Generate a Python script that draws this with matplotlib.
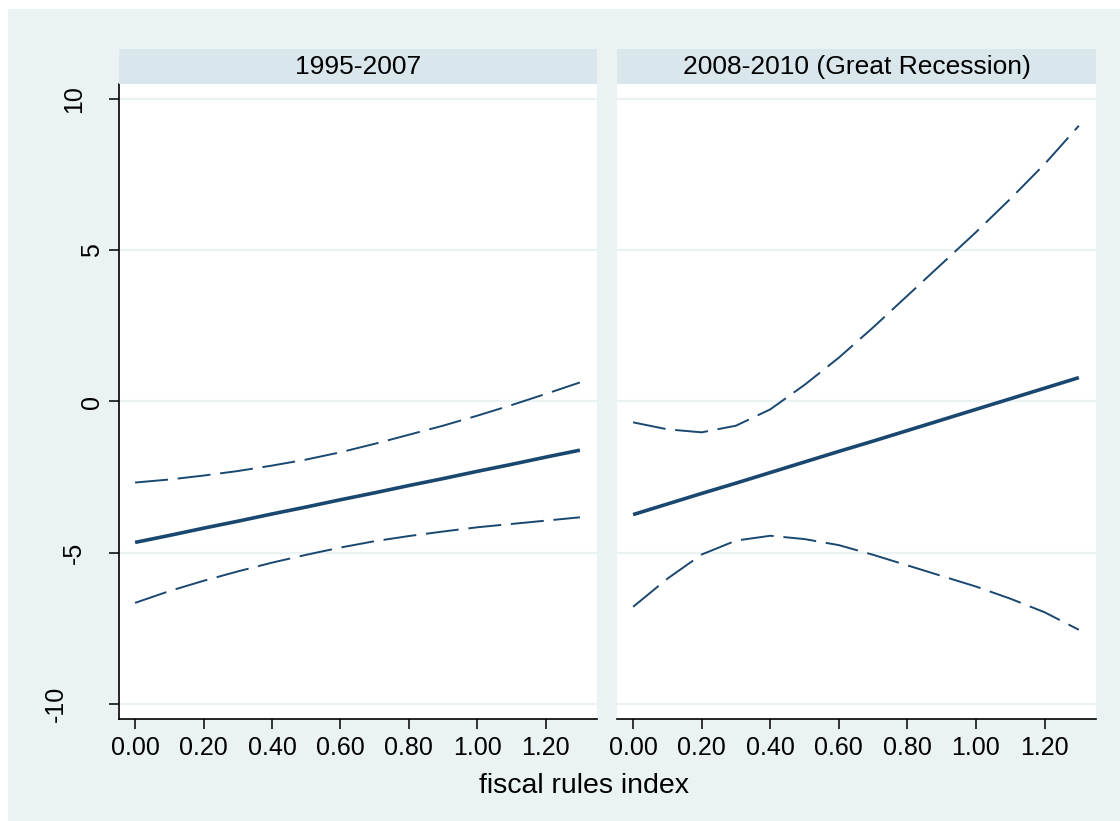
import matplotlib
matplotlib.use("Agg")
import matplotlib.pyplot as plt
from matplotlib.patches import Rectangle
from matplotlib.transforms import blended_transform_factory

plt.rcParams["font.family"] = ["Liberation Sans", "DejaVu Sans"]

# ---------------------------------------------------------------------------
# Data
# ---------------------------------------------------------------------------
PANEL_TITLES = ["1995-2007", "2008-2010 (Great Recession)"]
X = [0.0, 0.1, 0.2, 0.3, 0.4, 0.5, 0.6, 0.7, 0.8, 0.9, 1.0, 1.1, 1.2, 1.3]

LEFT_MID = [-4.66, -4.43, -4.19, -3.96, -3.72, -3.49, -3.25, -3.02, -2.78,
            -2.55, -2.31, -2.08, -1.84, -1.61]
LEFT_HI = [-2.68, -2.58, -2.45, -2.30, -2.12, -1.92, -1.68, -1.40, -1.10,
           -0.80, -0.47, -0.12, 0.25, 0.63]
LEFT_LO = [-6.66, -6.27, -5.93, -5.62, -5.33, -5.07, -4.83, -4.62, -4.45,
           -4.30, -4.16, -4.05, -3.94, -3.83]

RIGHT_MID = [-3.74, -3.39, -3.04, -2.70, -2.35, -2.00, -1.65, -1.31, -0.96,
             -0.61, -0.26, 0.09, 0.44, 0.79]
RIGHT_HI = [-0.69, -0.92, -1.02, -0.80, -0.26, 0.55, 1.45, 2.45, 3.50,
            4.55, 5.60, 6.70, 7.85, 9.12]
RIGHT_LO = [-6.79, -5.86, -5.06, -4.60, -4.44, -4.55, -4.75, -5.07, -5.42,
            -5.77, -6.12, -6.52, -6.97, -7.55]

X_TICKS = [0.0, 0.2, 0.4, 0.6, 0.8, 1.0, 1.2]
X_TICKLABELS = ["0.00", "0.20", "0.40", "0.60", "0.80", "1.00", "1.20"]
Y_TICKS = [-10, -5, 0, 5, 10]
Y_TICKLABELS = ["-10", "-5", "0", "5", "10"]
X_LABEL = "fiscal rules index"

# ---------------------------------------------------------------------------
# Style
# ---------------------------------------------------------------------------
BG = "#EAF2F3"
STRIP = "#D9E6EB"
GRID = "#EAF2F3"
NAVY = "#1A476F"
TICK_FS = 18
W, H = 1120, 821

fig = plt.figure(figsize=(W / 100, H / 100), dpi=100, facecolor="white")
fig.patches.append(Rectangle((8 / W, 0), 1 - 8 / W, 1 - 9 / H,
                             transform=fig.transFigure, facecolor=BG,
                             edgecolor="none", zorder=-10))


def px_axes(x0, y0, x1, y1):
    return fig.add_axes([x0 / W, 1 - y1 / H, (x1 - x0) / W, (y1 - y0) / H])


panels = [
    (119, 597, LEFT_MID, LEFT_HI, LEFT_LO),
    (617, 1096, RIGHT_MID, RIGHT_HI, RIGHT_LO),
]

for i, (x0, x1, mid, hi, lo) in enumerate(panels):
    ax = px_axes(x0, 84, x1, 719)
    ax.set_facecolor("white")
    ax.set_xlim(-0.047, 1.35)
    ax.set_ylim(-10.5, 10.5)
    for y in Y_TICKS:
        ax.axhline(y, color=GRID, lw=1.6, zorder=1)

    ax.plot(X, hi, color=NAVY, lw=1.4, ls=(0, (17, 5)), zorder=3)
    ax.plot(X, lo, color=NAVY, lw=1.4, ls=(0, (17, 5)), zorder=3)
    ax.plot(X, mid, color=NAVY, lw=2.6, zorder=4,
            solid_capstyle="butt")

    for s in ["top", "right"]:
        ax.spines[s].set_visible(False)
    ax.spines["bottom"].set_linewidth(1.2)
    ax.spines["left"].set_linewidth(1.2)
    if i == 1:
        ax.spines["left"].set_visible(False)

    ax.set_xticks(X_TICKS)
    ax.set_xticklabels(X_TICKLABELS)
    ax.tick_params(axis="x", length=7, width=1.1, labelsize=TICK_FS, pad=5)
    if i == 0:
        ax.set_yticks(Y_TICKS)
        ax.set_yticklabels([""] * len(Y_TICKS))
        ax.tick_params(axis="y", length=7, width=1.1)
        # Stata shifts rotated labels left by their character count
        trans = blended_transform_factory(fig.transFigure, ax.transData)
        for yv, lab in zip(Y_TICKS, Y_TICKLABELS):
            cx = 92 - 18 * (len(lab) - 1)
            ax.text(cx / W, yv, lab, rotation=90, ha="center", va="center",
                    fontsize=TICK_FS, transform=trans, clip_on=False)
    else:
        ax.set_yticks([])

    sx = px_axes(x0, 49, x1, 84)
    sx.set_facecolor(STRIP)
    sx.set_xticks([])
    sx.set_yticks([])
    for s in sx.spines.values():
        s.set_visible(False)
    sx.text(0.5, 0.48, PANEL_TITLES[i], ha="center", va="center",
            fontsize=19, transform=sx.transAxes)

fig.text(584 / W, 1 - 786 / H, X_LABEL, ha="center", va="center",
         fontsize=20.5)

fig.savefig("out.png", dpi=100, facecolor=fig.get_facecolor())
